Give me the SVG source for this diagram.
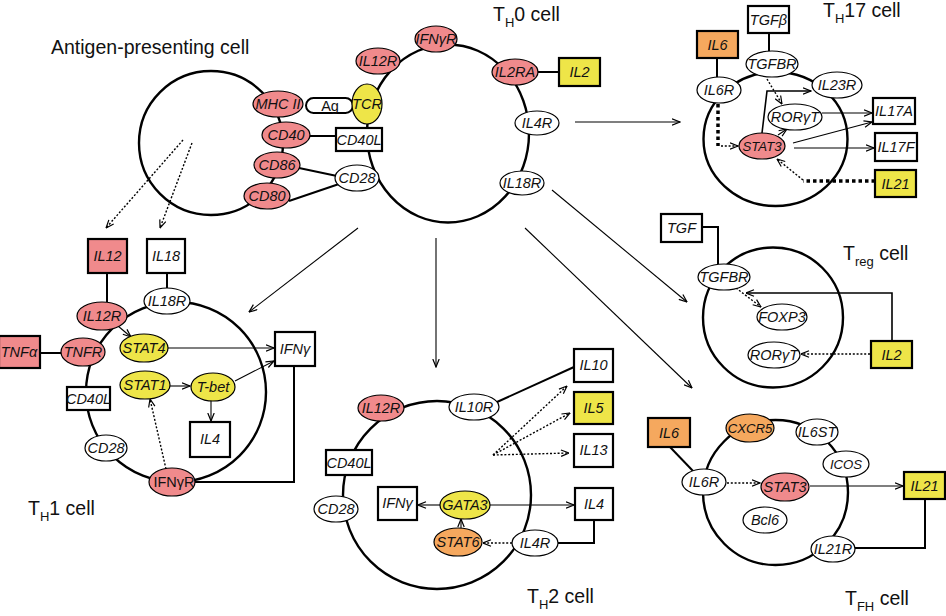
<svg xmlns="http://www.w3.org/2000/svg" width="946" height="616" viewBox="0 0 946 616">
<defs>
<marker id="ah" viewBox="0 0 9 8" refX="8.5" refY="4" markerWidth="9" markerHeight="8" markerUnits="userSpaceOnUse" orient="auto">
<path d="M0.5,0.8 L8.5,4 L0.5,7.2" fill="none" stroke="#000" stroke-width="1.2"/>
</marker>
<style>
.cell{fill:none;stroke:#000;stroke-width:2.4}
.n{stroke:#000;stroke-width:1.2;fill:#fff}
.b{stroke:#000;stroke-width:2.2;fill:#fff}
.r{fill:#f08a8c}
.y{fill:#eee548}
.o{fill:#f5a85e}
.t{font-family:"Liberation Sans",Arial,sans-serif;font-size:14.5px;font-style:italic;text-anchor:middle;fill:#111}
.s{font-size:13.2px}
.u{font-style:normal}
.lab{font-family:"Liberation Sans",Arial,sans-serif;font-size:19.5px;fill:#111}
.sub{font-size:13px}
.k{fill:none;stroke:#000;stroke-width:2}
.a{fill:none;stroke:#000;stroke-width:1.1;marker-end:url(#ah)}
.d{fill:none;stroke:#000;stroke-width:1.4;stroke-dasharray:2 1.8;marker-end:url(#ah)}
.td{fill:none;stroke:#000;stroke-width:3.5;stroke-dasharray:3.5 3}
</style>
</defs>
<rect width="946" height="616" fill="#fff"/>

<!-- cell outlines -->
<g id="cells">
<circle class="cell" cx="211" cy="143" r="72"/>
<ellipse class="cell" cx="448" cy="133.5" rx="81" ry="89"/>
<circle class="cell" cx="176" cy="392" r="90"/>
<circle class="cell" cx="437" cy="495" r="94"/>
<ellipse class="cell" cx="775.5" cy="139" rx="72" ry="67"/>
<circle class="cell" cx="773" cy="317.5" r="70"/>
<circle class="cell" cx="775.5" cy="492.5" r="72.5"/>
</g>

<!-- labels -->
<g id="labels">
<text class="lab" x="51" y="54">Antigen-presenting cell</text>
<text class="lab" x="493" y="21">T<tspan class="sub" dy="6">H</tspan><tspan dy="-6">0 cell</tspan></text>
<text class="lab" x="823" y="17">T<tspan class="sub" dy="6">H</tspan><tspan dy="-6">17 cell</tspan></text>
<text class="lab" x="843" y="260">T<tspan class="sub" dy="6">reg</tspan><tspan dy="-6"> cell</tspan></text>
<text class="lab" x="28" y="515">T<tspan class="sub" dy="6">H</tspan><tspan dy="-6">1 cell</tspan></text>
<text class="lab" x="527" y="603">T<tspan class="sub" dy="6">H</tspan><tspan dy="-6">2 cell</tspan></text>
<text class="lab" x="845" y="605">T<tspan class="sub" dy="6">FH</tspan><tspan dy="-6"> cell</tspan></text>
</g>

<!-- connectors -->
<g id="connectors">
<!-- APC / TH0 -->
<line class="d" x1="183" y1="140" x2="106" y2="228"/>
<line class="d" x1="192" y1="143" x2="160" y2="228"/>
<line class="k" x1="309" y1="136" x2="336" y2="136"/>
<line class="k" x1="299" y1="168" x2="337" y2="176"/>
<line class="k" x1="289" y1="201" x2="339" y2="184"/>
<line class="k" x1="537" y1="72" x2="559" y2="72"/>
<line class="a" x1="358" y1="228" x2="249" y2="312"/>
<line class="a" x1="436" y1="238" x2="436" y2="367"/>
<line class="a" x1="552" y1="190" x2="687" y2="302"/>
<line class="a" x1="525" y1="228" x2="692" y2="388"/>
<line class="a" x1="575" y1="122" x2="680" y2="122"/>
<!-- TH1 -->
<line class="k" x1="107" y1="273" x2="107" y2="302"/>
<line class="k" x1="167" y1="273" x2="167" y2="288"/>
<line class="k" x1="40" y1="353" x2="61" y2="353"/>
<polyline class="k" points="294,366 294,482 195,482"/>
<line class="a" x1="118" y1="326" x2="131" y2="337"/>
<line class="a" x1="168" y1="348" x2="274" y2="348"/>
<line class="a" x1="170" y1="386" x2="190" y2="386"/>
<line class="a" x1="235" y1="381" x2="274" y2="361"/>
<line class="a" x1="211" y1="400" x2="211" y2="421"/>
<line class="d" x1="166" y1="469" x2="150" y2="399"/>
<!-- TH2 -->
<line class="k" x1="497" y1="402" x2="574" y2="367"/>
<line class="d" x1="493" y1="455" x2="567" y2="386"/>
<line class="d" x1="493" y1="455" x2="570" y2="413"/>
<line class="d" x1="493" y1="455" x2="569" y2="453"/>
<polyline class="k" points="594,520 594,543 558,543"/>
<line class="a" x1="440" y1="505" x2="418" y2="505"/>
<line class="a" x1="490" y1="505" x2="574" y2="505"/>
<line class="a" x1="461" y1="528" x2="461" y2="519"/>
<line class="d" x1="512" y1="543" x2="483" y2="543"/>
<!-- TH17 -->
<line class="k" x1="717" y1="58" x2="717" y2="77"/>
<line class="k" x1="769" y1="33" x2="769" y2="51"/>
<polyline class="td" points="718,104 718,146"/>
<line class="d" x1="721" y1="146" x2="738" y2="146"/>
<line class="d" x1="767" y1="79" x2="782" y2="104"/>
<polyline class="a" points="762,133 767,91 811,91" style="stroke-width:1.6"/>
<line class="a" x1="778" y1="135" x2="787" y2="129"/>
<line class="a" x1="822" y1="113" x2="872" y2="113"/>
<line class="a" x1="793" y1="143" x2="872" y2="122"/>
<line class="a" x1="794" y1="148" x2="874" y2="148"/>
<line class="td" x1="875" y1="181" x2="803" y2="181"/>
<line class="d" x1="803" y1="180" x2="777" y2="159"/>
<!-- Treg -->
<polyline class="k" points="702,227 718,227 718,264"/>
<line class="d" x1="736" y1="288" x2="761" y2="307"/>
<polyline class="a" points="892,341 892,293 746,293" style="stroke-width:1.6"/>
<line class="d" x1="870" y1="354" x2="801" y2="354"/>
<!-- TFH -->
<line class="k" x1="670" y1="447" x2="693" y2="471"/>
<line class="d" x1="727" y1="483" x2="760" y2="483"/>
<line class="a" x1="810" y1="486" x2="903" y2="486"/>
<polyline class="k" points="925,499 925,548 855,548"/>
</g>

<!-- APC nodes -->
<g id="apc-MHCII"><ellipse class="n r" cx="278" cy="104" rx="25" ry="13"/><text class="t" x="278" y="109">MHC II</text></g>
<g id="apc-CD40"><ellipse class="n r" cx="286" cy="135" rx="24" ry="13"/><text class="t" x="286" y="140">CD40</text></g>
<g id="apc-CD86"><ellipse class="n r" cx="277" cy="165" rx="23" ry="13"/><text class="t" x="277" y="170">CD86</text></g>
<g id="apc-CD80"><ellipse class="n r" cx="267" cy="196" rx="23" ry="13"/><text class="t" x="267" y="201">CD80</text></g>
<g id="Ag"><rect class="n" x="306" y="98" width="47" height="15" rx="7.5" style="stroke-width:2"/><text class="t u" x="330" y="110.5">Ag</text></g>

<!-- TH0 nodes -->
<g id="th0-TCR"><ellipse class="n y" cx="367" cy="104" rx="15" ry="20"/><text class="t" x="367" y="109">TCR</text></g>
<g id="th0-CD40L"><rect class="b" x="336" y="128" width="46" height="23"/><text class="t" x="359" y="145">CD40L</text></g>
<g id="th0-CD28"><ellipse class="n" cx="357" cy="178" rx="22" ry="13"/><text class="t" x="357" y="183">CD28</text></g>
<g id="th0-IL12R"><ellipse class="n r" cx="378" cy="61" rx="22" ry="13"/><text class="t" x="378" y="66">IL12R</text></g>
<g id="th0-IFNgR"><ellipse class="n r" cx="436" cy="39" rx="21" ry="13"/><text class="t" x="436" y="44">IFNγR</text></g>
<g id="th0-IL2RA"><ellipse class="n r" cx="515" cy="72" rx="23" ry="13"/><text class="t" x="515" y="77">IL2RA</text></g>
<g id="th0-IL2"><rect class="b y" x="559" y="58" width="41" height="28"/><text class="t" x="579.5" y="77">IL2</text></g>
<g id="th0-IL4R"><ellipse class="n" cx="537" cy="123" rx="22" ry="12"/><text class="t" x="537" y="128">IL4R</text></g>
<g id="th0-IL18R"><ellipse class="n" cx="522" cy="183" rx="22" ry="12"/><text class="t" x="522" y="188">IL18R</text></g>

<!-- TH1 nodes -->
<g id="th1-IL12"><rect class="b r" x="88" y="239" width="39" height="34"/><text class="t" x="107.5" y="261">IL12</text></g>
<g id="th1-IL18"><rect class="b" x="147" y="239" width="38" height="34"/><text class="t" x="166" y="261">IL18</text></g>
<g id="th1-IL12R"><ellipse class="n r" cx="102" cy="316" rx="25" ry="14"/><text class="t" x="102" y="321">IL12R</text></g>
<g id="th1-IL18R"><ellipse class="n" cx="167" cy="301" rx="23" ry="13"/><text class="t" x="167" y="306">IL18R</text></g>
<g id="th1-TNFa"><rect class="b r" x="-1" y="336" width="41" height="32"/><text class="t" x="19" y="357">TNFα</text></g>
<g id="th1-TNFR"><ellipse class="n r" cx="83" cy="352" rx="22" ry="14"/><text class="t" x="83" y="357">TNFR</text></g>
<g id="th1-STAT4"><ellipse class="n y" cx="144" cy="348" rx="24" ry="14"/><text class="t" x="144" y="353">STAT4</text></g>
<g id="th1-STAT1"><ellipse class="n y" cx="145" cy="385" rx="25" ry="14"/><text class="t" x="145" y="390">STAT1</text></g>
<g id="th1-Tbet"><ellipse class="n y" cx="213" cy="387" rx="22" ry="14"/><text class="t" x="213" y="392">T-bet</text></g>
<g id="th1-IFNg"><rect class="b" x="275" y="332" width="40" height="34"/><text class="t" x="295" y="354">IFNγ</text></g>
<g id="th1-CD40L"><rect class="b" x="67" y="387" width="43" height="23"/><text class="t" x="88.5" y="404">CD40L</text></g>
<g id="th1-IL4"><rect class="b" x="190" y="422" width="40" height="35"/><text class="t" x="210" y="444">IL4</text></g>
<g id="th1-CD28"><ellipse class="n" cx="106" cy="448" rx="21" ry="13"/><text class="t" x="106" y="453">CD28</text></g>
<g id="th1-IFNgR"><ellipse class="n r" cx="172" cy="482" rx="23" ry="14"/><text class="t u" x="174" y="487">IFNγR</text></g>

<!-- TH2 nodes -->
<g id="th2-IL12R"><ellipse class="n r" cx="381" cy="408" rx="23" ry="13"/><text class="t" x="381" y="413">IL12R</text></g>
<g id="th2-IL10R"><ellipse class="n" cx="474" cy="407" rx="25" ry="13"/><text class="t" x="474" y="412">IL10R</text></g>
<g id="th2-IL10"><rect class="b" x="574" y="349" width="39" height="33"/><text class="t" x="593.5" y="370">IL10</text></g>
<g id="th2-IL5"><rect class="b y" x="574" y="392" width="39" height="32"/><text class="t" x="593.5" y="413">IL5</text></g>
<g id="th2-IL13"><rect class="b" x="574" y="434" width="39" height="33"/><text class="t" x="593.5" y="455">IL13</text></g>
<g id="th2-CD40L"><rect class="b" x="326" y="450" width="46" height="25"/><text class="t" x="349" y="467.5">CD40L</text></g>
<g id="th2-CD28"><ellipse class="n" cx="336" cy="509" rx="22" ry="13"/><text class="t" x="336" y="514">CD28</text></g>
<g id="th2-IFNg"><rect class="b" x="378" y="487" width="39" height="33"/><text class="t" x="397.5" y="508">IFNγ</text></g>
<g id="th2-GATA3"><ellipse class="n y" cx="465" cy="505" rx="25" ry="14"/><text class="t" x="465" y="510">GATA3</text></g>
<g id="th2-STAT6"><ellipse class="n o" cx="458" cy="542" rx="24" ry="14"/><text class="t" x="458" y="547">STAT6</text></g>
<g id="th2-IL4R"><ellipse class="n" cx="535" cy="543" rx="23" ry="13"/><text class="t" x="535" y="548">IL4R</text></g>
<g id="th2-IL4"><rect class="b" x="575" y="488" width="38" height="32"/><text class="t" x="594" y="509">IL4</text></g>

<!-- TH17 nodes -->
<g id="th17-TGFb"><rect class="b" x="748" y="6" width="41" height="27"/><text class="t" x="768.5" y="24.5">TGFβ</text></g>
<g id="th17-TGFBR"><ellipse class="n" cx="772" cy="64" rx="26" ry="13"/><text class="t" x="772" y="69">TGFBR</text></g>
<g id="th17-IL6"><rect class="b o" x="697" y="31" width="41" height="27"/><text class="t" x="717.5" y="49.5">IL6</text></g>
<g id="th17-IL6R"><ellipse class="n" cx="719" cy="90" rx="22" ry="13"/><text class="t" x="719" y="95">IL6R</text></g>
<g id="th17-IL23R"><ellipse class="n" cx="837" cy="85" rx="25" ry="13"/><text class="t" x="837" y="90">IL23R</text></g>
<g id="th17-RORgT"><ellipse class="n" cx="795" cy="117" rx="27" ry="13"/><text class="t" x="795" y="122">RORγT</text></g>
<g id="th17-STAT3"><ellipse class="n r" cx="762" cy="146" rx="23" ry="13"/><text class="t s" x="762" y="151">STAT3</text></g>
<g id="th17-IL17A"><rect class="b" x="873" y="98" width="42" height="26"/><text class="t" x="894" y="116">IL17A</text></g>
<g id="th17-IL17F"><rect class="b" x="875" y="133" width="42" height="28"/><text class="t" x="896" y="152">IL17F</text></g>
<g id="th17-IL21"><rect class="b y" x="875" y="170" width="41" height="27"/><text class="t" x="895.5" y="188.5">IL21</text></g>

<!-- Treg nodes -->
<g id="treg-TGF"><rect class="b" x="661" y="214" width="41" height="28"/><text class="t" x="681.5" y="233">TGF</text></g>
<g id="treg-TGFBR"><ellipse class="n" cx="724" cy="277" rx="26" ry="13"/><text class="t" x="724" y="282">TGFBR</text></g>
<g id="treg-FOXP3"><ellipse class="n" cx="782" cy="317" rx="25" ry="13"/><text class="t" x="782" y="322">FOXP3</text></g>
<g id="treg-RORgT"><ellipse class="n" cx="774" cy="355" rx="26" ry="13"/><text class="t" x="774" y="360">RORγT</text></g>
<g id="treg-IL2"><rect class="b y" x="871" y="341" width="41" height="27"/><text class="t" x="891.5" y="359.5">IL2</text></g>

<!-- TFH nodes -->
<g id="tfh-IL6"><rect class="b o" x="648" y="418" width="42" height="29"/><text class="t" x="669" y="437.5">IL6</text></g>
<g id="tfh-IL6R"><ellipse class="n" cx="704" cy="482" rx="22" ry="13"/><text class="t" x="704" y="487">IL6R</text></g>
<g id="tfh-CXCR5"><ellipse class="n o" cx="750" cy="428" rx="24" ry="14"/><text class="t s" x="750" y="433">CXCR5</text></g>
<g id="tfh-IL6ST"><ellipse class="n" cx="817" cy="432" rx="21" ry="13"/><text class="t" x="817" y="437">IL6ST</text></g>
<g id="tfh-ICOS"><ellipse class="n" cx="846" cy="464" rx="23" ry="13"/><text class="t s" x="846" y="469">ICOS</text></g>
<g id="tfh-STAT3"><ellipse class="n r" cx="785" cy="487" rx="24" ry="14"/><text class="t" x="785" y="492">STAT3</text></g>
<g id="tfh-Bcl6"><ellipse class="n" cx="765" cy="520" rx="22" ry="13"/><text class="t" x="765" y="525">Bcl6</text></g>
<g id="tfh-IL21R"><ellipse class="n" cx="833" cy="549" rx="22" ry="13"/><text class="t" x="833" y="554">IL21R</text></g>
<g id="tfh-IL21"><rect class="b y" x="904" y="472" width="41" height="27"/><text class="t" x="924.5" y="490.5">IL21</text></g>
</svg>
